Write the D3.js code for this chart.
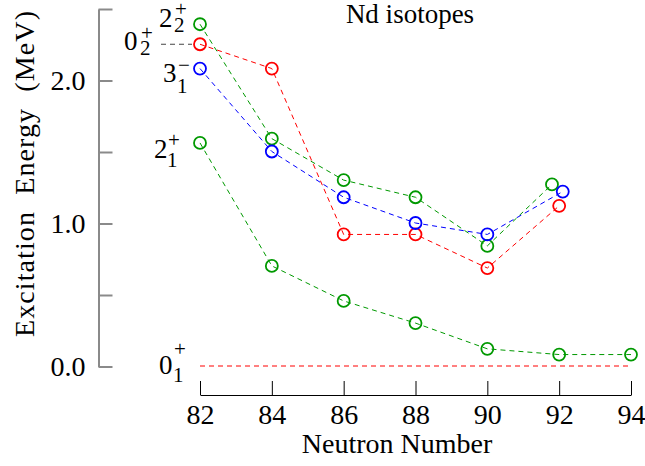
<!DOCTYPE html>
<html>
<head>
<meta charset="utf-8">
<script src="https://cdn.jsdelivr.net/npm/d3@7"></script>
<style>
  body { margin: 0; background: #fff; }
  svg text { font-family: "Liberation Serif", "Times New Roman", serif; }
</style>
</head>
<body>
<div id="chart"></div>
<script>
// neutron numbers and level energies (MeV) for Nd isotopes
var neutrons = [82, 84, 86, 88, 90, 92, 94];
var e2plus1 = [1.56, 0.70, 0.455, 0.30, 0.12, 0.08, 0.08];

var nUpper = [82, 84, 86, 88, 90, 91.8];
var e2plus2 = [2.39, 1.59, 1.30, 1.18, 0.84, 1.27];

var nZero2 = [82, 84, 86, 88, 90, 92];
var e0plus2 = [2.25, 2.08, 0.92, 0.92, 0.685, 1.12];

var nOct = [82, 84, 86, 88, 90, 92.1];
var e3minus1 = [2.08, 1.50, 1.18, 1.00, 0.92, 1.22];

var nGround = [82, 94];
var e0plus1 = [0, 0];

var xTicks = [82, 84, 86, 88, 90, 92, 94];
var yTicks = [0, 0.5, 1.0, 1.5, 2.0, 2.5];
var yTickLabels = ["0.0", "", "1.0", "", "2.0", ""];

var svg = d3.select("#chart")
	.append("svg")
	.attr("width", 645)
	.attr("height", 466);

var x = d3.scaleLinear().domain([82, 94]).range([200, 631]);
var y = d3.scaleLinear().domain([0, 2.5]).range([366, 8.5]);

// y axis (ticks point inwards), drawn grey like the original
var yAxis = d3.axisLeft(y)
	.tickValues(yTicks)
	.tickSizeInner(-14)
	.tickSizeOuter(0)
	.tickPadding(13)
	.tickFormat(function(d, i) { return yTickLabels[i]; });
var gy = svg.append("g").attr("transform", "translate(98.5,0.5)").call(yAxis);
gy.selectAll("path, line").attr("stroke", "#8a8a8a").attr("stroke-width", 2);
gy.selectAll("text").attr("font-size", 28).attr("fill", "#000")
	.style("font-family", '"Liberation Serif", serif');

// x axis
var xAxis = d3.axisBottom(x)
	.tickValues(xTicks)
	.tickSizeInner(-14)
	.tickSizeOuter(0)
	.tickPadding(9)
	.tickFormat(d3.format("d"));
var gx = svg.append("g").attr("transform", "translate(0,395)").call(xAxis);
gx.selectAll("path, line").attr("stroke", "#000").attr("stroke-width", 1);
gx.selectAll("text").attr("font-size", 28).attr("fill", "#000")
	.style("font-family", '"Liberation Serif", serif');

// axis titles
svg.append("text")
	.attr("x", 397).attr("y", 453)
	.attr("text-anchor", "middle")
	.attr("font-size", 28)
	.text("Neutron Number");

svg.append("text")
	.attr("transform", "translate(34,174) rotate(-90)")
	.attr("text-anchor", "middle")
	.attr("font-size", 28)
	.attr("textLength", 326)
	.attr("lengthAdjust", "spacing")
	.style("white-space", "pre")
	.text("Excitation  Energy  (MeV)");

svg.append("text")
	.attr("x", 410).attr("y", 23)
	.attr("text-anchor", "middle")
	.attr("font-size", 27)
	.text("Nd isotopes");

// series
var series = [
	{ n: nGround, e: e0plus1, color: "#ff0000", marks: false },
	{ n: neutrons, e: e2plus1, color: "#009900", marks: true },
	{ n: nZero2, e: e0plus2, color: "#ff0000", marks: true },
	{ n: nUpper, e: e2plus2, color: "#009900", marks: true },
	{ n: nOct, e: e3minus1, color: "#0000ff", marks: true }
];

var line = d3.line()
	.x(function(d) { return x(d[0]); })
	.y(function(d) { return y(d[1]); });

series.forEach(function(s) {
	var pts = s.n.map(function(v, i) { return [v, s.e[i]]; });
	svg.append("path")
		.attr("d", line(pts))
		.attr("fill", "none")
		.attr("stroke", s.color)
		.attr("stroke-width", 1)
		.attr("stroke-dasharray", "5,4");
	if (s.marks) {
		svg.selectAll(null)
			.data(pts)
			.enter()
			.append("circle")
			.attr("cx", function(d) { return x(d[0]); })
			.attr("cy", function(d) { return y(d[1]); })
			.attr("r", 6)
			.attr("fill", "none")
			.attr("stroke", s.color)
			.attr("stroke-width", 1.8);
	}
});

// leader from 0+2 label to its point
svg.append("line")
	.attr("x1", 161).attr("x2", x(82) - 8)
	.attr("y1", y(e0plus2[0])).attr("y2", y(e0plus2[0]))
	.attr("stroke", "#444")
	.attr("stroke-width", 1)
	.attr("stroke-dasharray", "5,4");

// level labels
var levels = [
	{ main: "2", sub: "2", sup: "+", x: 159, b: 27, sx: 174, sb: 32, pb: 16 },
	{ main: "0", sub: "2", sup: "+", x: 124, b: 50, sx: 140, sb: 55, pb: 40 },
	{ main: "3", sub: "1", sup: "\u2212", x: 163, b: 82, sx: 177, sb: 93, pb: 72 },
	{ main: "2", sub: "1", sup: "+", x: 154, b: 158, sx: 167, sb: 167, pb: 147 },
	{ main: "0", sub: "1", sup: "+", x: 159, b: 374, sx: 173, sb: 382, pb: 356 }
];

levels.forEach(function(l) {
	svg.append("text").attr("x", l.x).attr("y", l.b).attr("font-size", 27).text(l.main);
	svg.append("text").attr("x", l.sx).attr("y", l.sb).attr("font-size", 21).text(l.sub);
	svg.append("text").attr("x", l.sx + 1).attr("y", l.pb).attr("font-size", 21).text(l.sup);
});
</script>
</body>
</html>
